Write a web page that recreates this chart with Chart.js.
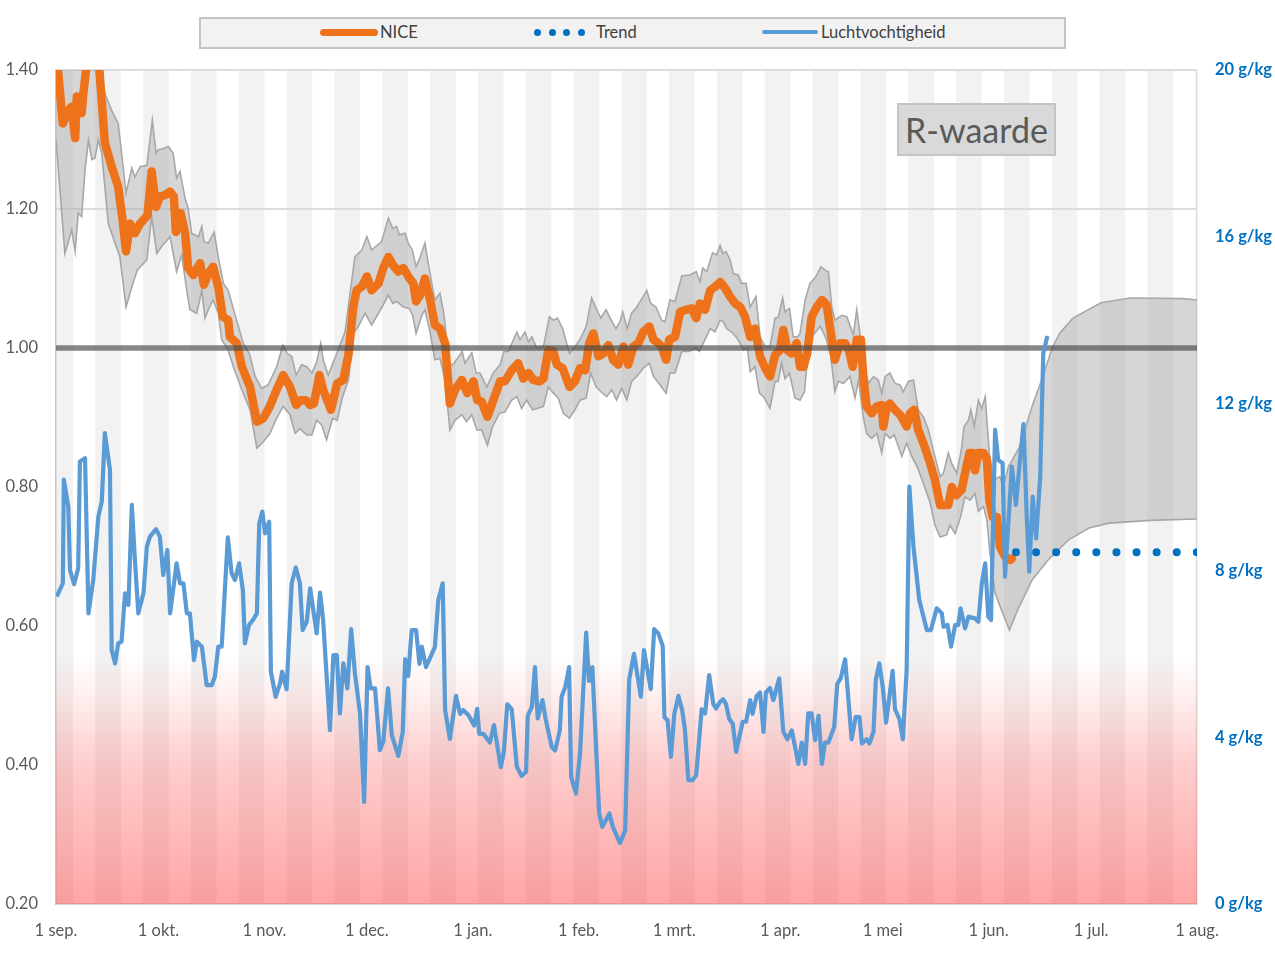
<!DOCTYPE html>
<html><head><meta charset="utf-8">
<script src="https://cdn.jsdelivr.net/npm/chart.js@4.4.1/dist/chart.umd.min.js"></script>
<style>
html,body{margin:0;padding:0;background:#fff;}
#wrap{position:relative;width:1275px;height:956px;overflow:hidden;}
#c{position:absolute;left:0;top:0;}
.abs{position:absolute;}
#legendBox{left:199px;top:17px;width:867px;height:32px;box-sizing:border-box;border:2px solid #c4c4c4;background:#f2f2f2;}
.lt{font-family:Lato,sans-serif;font-size:16.5px;line-height:20px;color:#404040;top:22px;white-space:nowrap;}
.dot{width:7px;height:7px;border-radius:50%;background:#0070c0;top:29px;}
#rTitle{left:897px;top:103px;width:159px;height:53px;box-sizing:border-box;border:2px solid #c4c4c4;background:#d9d9d9;font-family:Lato,sans-serif;font-size:34px;line-height:49px;color:#595959;text-align:center;}
</style></head>
<body><div id="wrap">
<canvas id="c" width="1275" height="956"></canvas>
<div id="legendBox" class="abs"></div>
<div class="abs" style="left:320px;top:29px;width:58px;height:7px;border-radius:4px;background:#ee7219;"></div>
<div class="abs lt" style="left:380px;">NICE</div>
<div class="abs dot" style="left:534px;"></div>
<div class="abs dot" style="left:549px;"></div>
<div class="abs dot" style="left:563px;"></div>
<div class="abs dot" style="left:578px;"></div>
<div class="abs lt" style="left:596px;">Trend</div>
<div class="abs" style="left:762px;top:30px;width:56px;height:4px;border-radius:2px;background:#5b9bd5;"></div>
<div class="abs lt" style="left:821px;">Luchtvochtigheid</div>
<div id="rTitle" class="abs">R-waarde</div>
</div>
<script>
// x = days since 1 sep.
const monthDays = [0,30,61,91,122,153,181,212,242,273,303,334];
const monthLabels = ['1 sep.','1 okt.','1 nov.','1 dec.','1 jan.','1 feb.','1 mrt.','1 apr.','1 mei','1 jun.','1 jul.','1 aug.'];
const leftTicks = [0.2,0.4,0.6,0.8,1.0,1.2,1.4];

// R-waarde (NICE) [day, R]
const nicePoints = [[0,1.43],[2.0,1.323],[3.6,1.342],[4.6,1.347],[5.6,1.302],[6.1,1.362],[7.5,1.338],[8.0,1.366],[8.8,1.40],[10,1.45],[11.5,1.46],[12.7,1.40],[14.3,1.295],[16.3,1.261],[18.2,1.232],[19.5,1.184],[20.5,1.139],[21.7,1.179],[23.1,1.165],[24.6,1.179],[26.8,1.191],[28.0,1.254],[29.3,1.203],[30.4,1.218],[31.9,1.220],[33.4,1.225],[34.5,1.218],[35.1,1.167],[36.5,1.194],[37.8,1.165],[38.7,1.115],[40.2,1.105],[42.2,1.122],[43.3,1.091],[44.6,1.107],[46.0,1.117],[47.5,1.088],[48.8,1.045],[50.4,1.040],[50.9,1.016],[52.9,1.007],[54.4,0.973],[56.8,0.944],[58.8,0.894],[60.7,0.899],[62.6,0.916],[64.6,0.940],[66.5,0.961],[68.5,0.944],[70.3,0.918],[71.6,0.925],[73.2,0.925],[74.4,0.918],[75.5,0.920],[77.1,0.961],[78.2,0.940],[80.5,0.911],[82.3,0.949],[84.1,0.954],[85.6,0.990],[87.0,1.059],[88.0,1.083],[89.5,1.088],[91.0,1.103],[92.4,1.083],[94.4,1.093],[95.8,1.115],[97.3,1.131],[98.7,1.119],[100.2,1.110],[101.7,1.115],[103.1,1.103],[104.6,1.093],[105.4,1.067],[106.6,1.076],[108.0,1.100],[109.5,1.069],[110.9,1.033],[112.4,1.028],[113.9,1.007],[115.3,0.920],[116.8,0.940],[118.8,0.954],[120.4,0.935],[122.2,0.952],[123.3,0.925],[124.6,0.923],[126.3,0.901],[128.0,0.925],[130.0,0.952],[131.4,0.952],[133.4,0.968],[135.3,0.978],[136.8,0.956],[138.3,0.964],[139.7,0.954],[141.5,0.952],[142.7,0.956],[144.1,0.997],[145.6,0.995],[146.6,0.976],[148.3,0.971],[150.3,0.944],[151.9,0.952],[153.4,0.971],[154.9,0.968],[156.1,1.007],[157.3,1.021],[158.8,0.988],[160.2,0.992],[161.7,1.004],[163.1,0.983],[164.6,0.976],[166.1,1.002],[167.5,0.976],[169.0,1.002],[170.5,1.007],[171.9,1.023],[173.7,1.031],[174.9,1.012],[176.3,1.007],[177.3,1.002],[178.6,0.983],[179.5,1.012],[181.2,1.016],[182.7,1.052],[184.4,1.055],[186.1,1.057],[187.4,1.043],[188.5,1.064],[190.0,1.055],[191.5,1.083],[192.9,1.088],[194.4,1.095],[195.9,1.086],[197.3,1.074],[198.8,1.064],[200.3,1.059],[201.7,1.045],[203.2,1.016],[204.6,1.028],[206.1,0.988],[207.6,0.971],[209.0,0.959],[210.5,0.990],[211.9,0.997],[212.9,1.026],[214.1,0.997],[215.4,0.992],[216.8,1.007],[217.8,0.973],[218.8,0.973],[219.9,0.992],[221.2,1.045],[222.7,1.059],[224.2,1.069],[225.6,1.062],[227.1,1.012],[228.0,0.983],[229.5,1.007],[231.0,1.007],[232.2,0.995],[233.2,0.973],[234.4,1.012],[235.6,1.012],[236.3,0.959],[237.3,0.916],[238.8,0.906],[240.3,0.916],[241.7,0.918],[242.2,0.887],[243.2,0.916],[244.1,0.920],[245.6,0.911],[247.1,0.904],[248.0,0.896],[249.0,0.887],[250.0,0.906],[251.2,0.911],[252.4,0.882],[253.9,0.863],[255.9,0.834],[257.3,0.810],[258.8,0.774],[260.2,0.774],[261.2,0.774],[262.2,0.800],[263.5,0.788],[265.1,0.796],[266.1,0.820],[267.4,0.849],[268.5,0.849],[269.0,0.824],[270.0,0.849],[271.5,0.849],[272.5,0.839],[273.2,0.781],[274.2,0.757],[275.4,0.757],[276.3,0.714],[277.8,0.700],[279.3,0.695],[279.8,0.697]];

// Upper bound of the band [day, R]
const bandUpperPoints = [[0,1.48],[5,1.46],[9,1.50],[12.9,1.40],[14.3,1.366],[16.3,1.342],[18.2,1.323],[19.2,1.280],[20.5,1.223],[22.2,1.259],[23.1,1.246],[24.6,1.261],[26.6,1.263],[28.2,1.328],[29.3,1.280],[29.9,1.285],[31.4,1.287],[32.9,1.290],[34.3,1.280],[35.3,1.244],[36.3,1.254],[37.8,1.215],[38.7,1.201],[39.7,1.165],[41.7,1.160],[42.7,1.175],[43.3,1.153],[44.6,1.151],[46.3,1.167],[47.5,1.131],[49.0,1.093],[50.4,1.083],[51.9,1.057],[53.4,1.031],[54.8,1.007],[56.6,0.992],[58.3,0.959],[60.2,0.942],[62.1,0.947],[64.6,0.973],[66.4,1.004],[67.7,0.992],[69.0,0.988],[70.3,0.961],[71.9,0.976],[73.4,0.973],[74.9,0.964],[76.3,0.980],[77.5,1.007],[78.2,0.983],[79.7,0.961],[81.2,0.980],[82.6,0.997],[84.6,1.023],[86.6,1.098],[87.5,1.131],[89.5,1.141],[91.0,1.160],[92.4,1.141],[95.3,1.153],[96.3,1.170],[97.3,1.187],[98.6,1.172],[99.7,1.175],[100.5,1.163],[102.2,1.165],[103.1,1.151],[104.3,1.141],[105.4,1.117],[106.6,1.131],[108.0,1.151],[109.5,1.107],[110.9,1.069],[112.4,1.079],[113.6,1.047],[115.1,0.973],[116.5,0.978],[118.9,0.995],[119.7,0.978],[121.7,0.993],[123.0,0.964],[124.1,0.964],[126.1,0.944],[128.0,0.964],[130.0,0.976],[131.1,0.995],[132.4,0.995],[134.9,1.023],[135.8,1.012],[137.3,1.023],[138.3,1.009],[139.3,1.016],[140.7,1.000],[142.7,1.002],[144.4,1.045],[145.6,1.040],[146.8,1.043],[148.3,1.028],[150.3,0.992],[151.9,1.002],[153.4,1.012],[155.2,1.031],[156.8,1.072],[158.3,1.055],[159.5,1.043],[161.0,1.055],[162.0,1.045],[163.9,1.028],[165.1,1.038],[165.9,1.052],[167.2,1.028],[168.5,1.050],[170.0,1.059],[171.9,1.074],[172.9,1.083],[174.1,1.064],[175.6,1.059],[177.3,1.040],[178.3,1.038],[179.7,1.069],[181.2,1.067],[183.2,1.104],[185.6,1.105],[187.4,1.110],[188.5,1.095],[189.3,1.115],[190.5,1.110],[192.2,1.137],[193.4,1.134],[194.4,1.148],[195.2,1.136],[196.1,1.139],[197.3,1.127],[198.3,1.107],[199.7,1.105],[200.7,1.093],[202.0,1.093],[203.2,1.059],[204.9,1.074],[206.1,1.016],[207.6,1.002],[209.0,1.002],[210.5,1.043],[211.4,1.044],[212.7,1.072],[213.4,1.052],[214.7,1.057],[215.8,1.016],[217.0,1.016],[217.8,1.021],[219.3,1.069],[220.7,1.093],[222.5,1.103],[223.9,1.117],[225.1,1.112],[226.1,1.110],[227.1,1.059],[228.0,1.040],[230.0,1.047],[231.5,1.045],[233.4,1.019],[234.4,1.055],[235.2,1.026],[236.2,0.983],[237.8,0.949],[239.3,0.959],[240.7,0.954],[241.7,0.935],[242.7,0.959],[244.1,0.964],[245.6,0.949],[247.1,0.947],[248.0,0.937],[249.5,0.952],[251.0,0.954],[252.4,0.911],[253.9,0.901],[255.4,0.882],[257.0,0.849],[258.8,0.815],[259.8,0.820],[261.2,0.849],[262.2,0.834],[263.7,0.820],[265.1,0.856],[265.8,0.887],[267.1,0.896],[267.8,0.911],[268.8,0.887],[270.0,0.925],[271.0,0.913],[272.0,0.930],[273.2,0.849],[274.4,0.810],[276.3,0.815],[277.3,0.800],[278.8,0.829],[282.1,0.858],[285.7,0.916],[288.6,0.955],[291.6,1.000],[293.9,1.022],[297.7,1.043],[305.9,1.065],[314.4,1.072],[329.9,1.071],[334,1.069]];

// Lower bound of the band [day, R]
const bandLowerPoints = [[0,1.30],[2.6,1.136],[4.6,1.170],[5.6,1.139],[6.5,1.194],[7.5,1.189],[8.5,1.256],[9.5,1.299],[10.5,1.271],[11.4,1.273],[12.4,1.299],[13.4,1.280],[15.3,1.179],[18.7,1.131],[20.5,1.059],[22.2,1.088],[23.8,1.112],[26.6,1.127],[28.0,1.189],[29.5,1.136],[30.9,1.146],[33.4,1.160],[35.3,1.110],[36.8,1.134],[38.4,1.079],[39.2,1.055],[41.2,1.050],[42.7,1.083],[43.6,1.043],[44.9,1.059],[46.0,1.069],[47.5,1.050],[48.5,1.012],[50.4,0.997],[51.9,0.973],[54.4,0.940],[56.8,0.911],[58.8,0.856],[60.7,0.865],[62.6,0.877],[64.6,0.899],[66.5,0.916],[68.5,0.904],[70.0,0.877],[71.4,0.884],[73.4,0.875],[74.9,0.875],[76.3,0.896],[77.8,0.889],[79.2,0.868],[81.0,0.899],[82.3,0.896],[83.9,0.930],[85.6,0.954],[87.2,1.021],[88.5,1.031],[90.5,1.050],[92.4,1.033],[94.4,1.050],[95.8,1.062],[97.3,1.076],[98.6,1.064],[99.7,1.067],[101.7,1.059],[103.4,1.057],[104.4,1.047],[105.4,1.021],[107.1,1.047],[108.0,1.055],[109.5,1.023],[110.9,0.983],[112.4,0.985],[113.9,0.954],[115.3,0.882],[116.8,0.896],[118.8,0.904],[120.2,0.894],[121.7,0.904],[123.2,0.882],[124.6,0.882],[126.3,0.860],[127.8,0.887],[129.8,0.906],[131.4,0.908],[133.4,0.925],[134.9,0.930],[136.3,0.913],[137.8,0.925],[139.5,0.911],[140.9,0.913],[142.7,0.916],[144.1,0.944],[145.6,0.935],[147.0,0.928],[148.5,0.906],[150.3,0.899],[151.9,0.911],[153.4,0.925],[155.2,0.928],[156.5,0.964],[158.1,0.944],[159.5,0.937],[161.2,0.930],[162.7,0.940],[164.1,0.925],[165.6,0.942],[167.1,0.925],[168.5,0.952],[170.0,0.959],[171.9,0.971],[173.7,0.978],[174.9,0.959],[176.8,0.947],[178.6,0.935],[179.7,0.964],[181.2,0.964],[183.2,0.995],[185.4,0.995],[187.1,1.000],[188.3,0.995],[189.5,1.007],[191.5,1.028],[192.9,1.023],[194.4,1.040],[195.3,1.038],[196.3,1.028],[197.8,1.023],[199.1,1.016],[200.2,1.007],[201.2,0.997],[202.4,1.000],[203.2,0.966],[204.6,0.973],[205.9,0.935],[207.1,0.930],[209.0,0.913],[210.5,0.952],[211.4,0.952],[212.4,0.978],[213.4,0.956],[214.7,0.964],[216.3,0.928],[217.8,0.925],[219.1,0.937],[220.2,0.997],[221.7,1.019],[223.7,1.031],[225.4,1.014],[226.8,0.988],[228.0,0.937],[229.0,0.952],[230.5,0.949],[232.4,0.959],[233.9,0.928],[234.9,0.954],[236.3,0.901],[237.3,0.877],[238.8,0.870],[240.3,0.877],[241.7,0.849],[242.7,0.877],[244.1,0.870],[245.4,0.875],[246.6,0.858],[247.6,0.844],[249.0,0.863],[250.5,0.844],[252.1,0.829],[253.9,0.805],[255.9,0.777],[257.3,0.745],[258.8,0.728],[260.7,0.731],[261.7,0.745],[263.2,0.733],[264.8,0.757],[266.1,0.786],[267.6,0.781],[269.0,0.791],[270.0,0.765],[271.5,0.772],[272.5,0.752],[273.4,0.705],[274.9,0.647],[276.3,0.629],[279.1,0.594],[281.5,0.623],[285.7,0.666],[290.4,0.695],[296.4,0.724],[302.4,0.741],[308.3,0.748],[320.3,0.752],[334,0.754]];

// Trend [day, R]
const trendPoints = [[281,0.706],[334,0.706]];
// Reference line R = 1
const refPoints = [[0,1.0],[334,1.0]];

// Luchtvochtigheid [day, g/kg]
const humidityPoints = [[0.2,7.37],[2.0,7.69],[2.3,10.18],[3.6,9.53],[4.1,8.01],[5.3,7.67],[6.5,8.05],[7.0,10.61],[8.5,10.69],[9.5,6.97],[10.9,7.77],[12.4,9.29],[13.4,9.65],[14.3,11.29],[15.8,10.41],[16.3,6.09],[17.3,5.77],[18.2,6.25],[19.2,6.29],[20.2,7.45],[21.2,7.17],[22.2,9.57],[23.1,8.25],[24.1,6.97],[25.6,7.45],[26.6,8.57],[27.5,8.81],[29.3,8.99],[30.4,8.81],[31.4,7.89],[32.6,8.49],[33.4,6.97],[35.3,8.17],[36.3,7.69],[37.3,7.69],[38.3,6.97],[39.2,6.97],[40.4,5.85],[41.2,6.29],[42.7,6.17],[44.1,5.25],[45.6,5.25],[46.5,5.45],[47.5,6.17],[48.5,6.17],[50.3,8.79],[51.4,7.93],[52.4,7.77],[53.6,8.17],[54.7,7.53],[55.3,6.25],[56.5,6.69],[57.8,6.83],[58.8,6.97],[59.5,9.13],[60.4,9.41],[61.2,8.89],[62.4,9.17],[62.9,5.57],[64.3,4.97],[65.6,5.29],[66.2,5.57],[67.5,5.15],[69.0,7.69],[70.2,8.07],[71.4,7.69],[72.2,6.57],[73.4,6.77],[74.4,7.57],[75.3,7.05],[76.3,6.49],[77.3,7.47],[78.2,6.81],[80.2,4.17],[81.2,5.97],[82.2,5.97],[83.1,4.57],[84.1,5.77],[85.3,5.17],[86.4,6.59],[87.5,5.53],[89.0,4.57],[90.2,2.45],[91.2,5.68],[92.1,5.17],[93.4,5.17],[94.8,3.69],[95.8,3.89],[97.2,5.17],[98.3,4.05],[100.2,3.55],[101.5,4.13],[102.2,5.87],[103.1,5.47],[104.1,6.57],[105.4,6.57],[106.4,5.76],[107.1,6.17],[108.3,5.68],[110.9,6.16],[111.9,7.29],[113.2,7.69],[113.9,4.65],[115.3,3.96],[117.1,4.99],[118.3,4.56],[119.2,4.65],[120.7,4.53],[122.4,4.28],[123.3,4.68],[123.9,4.08],[125.1,4.08],[127.0,3.87],[128.2,4.29],[130.2,3.28],[131.1,3.65],[132.1,4.79],[133.4,4.67],[134.9,3.29],[136.3,3.07],[137.6,3.17],[138.1,4.51],[139.3,4.73],[140.2,5.68],[141.0,4.45],[142.4,4.89],[143.4,4.41],[145.1,3.77],[146.1,3.68],[147.5,4.17],[148.0,4.97],[149.1,5.21],[150.2,5.68],[150.8,3.05],[152.2,2.65],[153.4,3.61],[155.2,6.51],[156.0,5.35],[157.0,5.68],[159.0,2.17],[159.9,1.85],[162.0,2.17],[163.0,1.85],[165.1,1.46],[166.6,1.76],[167.8,5.39],[169.2,6.00],[171.2,4.97],[172.1,6.09],[174.1,5.15],[175.1,6.59],[176.3,6.49],[177.6,6.19],[178.1,4.48],[179.0,4.41],[180.0,3.53],[181.0,4.56],[182.2,4.99],[183.3,4.65],[184.1,4.19],[185.1,2.97],[186.3,2.97],[187.4,3.09],[189.0,4.67],[190.0,4.57],[191.2,5.49],[192.4,4.80],[193.2,4.69],[194.4,4.85],[195.3,4.91],[196.1,4.80],[197.1,4.43],[198.1,4.32],[199.1,3.65],[201.0,4.37],[202.0,4.37],[203.2,4.89],[203.9,4.56],[205.1,4.99],[206.1,5.07],[207.1,4.13],[207.8,5.07],[209.0,5.18],[210.0,4.89],[211.7,5.41],[212.9,4.13],[214.1,3.95],[215.4,4.16],[217.3,3.36],[218.3,3.87],[219.3,3.36],[220.2,4.57],[221.2,4.57],[222.2,3.93],[223.2,4.51],[224.2,3.36],[225.1,3.87],[226.1,3.87],[227.8,4.25],[228.7,5.28],[229.7,5.41],[231.0,5.87],[232.9,3.95],[234.1,4.49],[235.2,4.48],[235.9,3.85],[237.3,3.95],[238.1,3.85],[239.3,4.13],[240.0,5.39],[241.0,5.77],[242.0,5.21],[243.0,4.35],[244.9,5.59],[245.6,4.67],[246.9,4.43],[247.9,3.95],[249.0,5.61],[249.8,10.01],[251.0,8.57],[252.7,7.29],[254.9,6.57],[256.1,6.57],[257.8,7.09],[259.3,6.97],[259.8,6.65],[261.0,6.69],[262.0,6.17],[263.2,6.69],[264.1,6.69],[264.8,7.09],[266.1,6.61],[267.1,6.89],[269.0,6.85],[270.0,6.77],[271.0,7.69],[272.0,8.17],[272.9,6.89],[273.7,6.81],[274.9,11.37],[275.8,10.65],[277.1,10.57],[277.8,7.85],[279.8,10.49],[281.0,9.57],[282.0,10.49],[283.2,11.51],[284.2,9.21],[284.9,7.97],[285.9,9.77],[286.9,8.77],[288.1,10.25],[289.0,13.21],[290.2,13.62]];

const toXY = arr => arr.map(p => ({x: p[0], y: p[1]}));

const stripesPlugin = {
  id: 'stripes',
  beforeDraw(chart) {
    const {ctx, chartArea: a, scales: {x}} = chart;
    ctx.save();
    ctx.fillStyle = '#f2f2f2';
    for (let k = -1; k < 25; k++) {
      const s = Math.max(0, 11.5 + 14 * k), e = Math.min(334, 11.5 + 14 * k + 7.5);
      if (e <= s) continue;
      const x0 = x.getPixelForValue(s), x1 = x.getPixelForValue(e);
      ctx.fillRect(x0, a.top, x1 - x0, a.bottom - a.top);
    }
    ctx.restore();
  }
};
const redZonePlugin = {
  id: 'redZone',
  beforeDatasetsDraw(chart) {
    const {ctx, chartArea: a, scales: {y}} = chart;
    const y0 = y.getPixelForValue(0.56);
    const g = ctx.createLinearGradient(0, y0, 0, a.bottom);
    g.addColorStop(0, 'rgba(255,60,60,0)');
    g.addColorStop(0.15, 'rgba(255,60,60,0.07)');
    g.addColorStop(0.45, 'rgba(255,60,60,0.26)');
    g.addColorStop(1, 'rgba(255,60,60,0.46)');
    ctx.save();
    ctx.fillStyle = g;
    ctx.fillRect(a.left, y0, a.right - a.left, a.bottom - y0);
    ctx.restore();
  }
};

new Chart(document.getElementById('c'), {
  type: 'line',
  data: {
    datasets: [
      {label: 'Luchtvochtigheid', data: toXY(humidityPoints), yAxisID: 'y2', borderColor: '#5b9bd5', borderWidth: 4.2, pointRadius: 0, fill: false, tension: 0, borderJoinStyle: 'round', order: 0},
      {label: 'Trend', data: toXY(trendPoints), yAxisID: 'y', borderColor: '#0070c0', borderWidth: 8, borderDash: [0, 20.1], borderCapStyle: 'round', pointRadius: 0, fill: false, order: 1},
      {label: 'R=1', data: toXY(refPoints), yAxisID: 'y', borderColor: 'rgba(70,70,70,0.65)', borderWidth: 5.5, pointRadius: 0, fill: false, order: 2},
      {label: 'NICE', data: toXY(nicePoints), yAxisID: 'y', borderColor: '#ee7219', borderWidth: 8.5, pointRadius: 0, fill: false, borderJoinStyle: 'round', borderCapStyle: 'round', clip: 0, order: 3},
      {label: 'Boven', data: toXY(bandUpperPoints), yAxisID: 'y', borderColor: '#a8a8a8', borderWidth: 1.6, backgroundColor: 'rgba(165,165,165,0.45)', fill: '+1', pointRadius: 0, clip: 0, order: 4},
      {label: 'Onder', data: toXY(bandLowerPoints), yAxisID: 'y', borderColor: '#a8a8a8', borderWidth: 1.6, pointRadius: 0, fill: false, clip: 0, order: 5}
    ]
  },
  options: {
    responsive: false,
    animation: false,
    events: [],
    layout: {padding: {top: 70, left: 0, right: 0, bottom: 0}},
    plugins: {legend: {display: false}, title: {display: false}, tooltip: {enabled: false}},
    scales: {
      x: {
        type: 'linear', min: 0, max: 334,
        afterBuildTicks: s => { s.ticks = monthDays.map(v => ({value: v})); },
        ticks: {callback: (v, i) => monthLabels[i], font: {family: 'Lato', size: 16.5}, color: '#595959', padding: 17, maxRotation: 0, autoSkip: false},
        grid: {color: 'rgba(0,0,0,0)', drawTicks: false},
        border: {color: '#d9d9d9', width: 2},
        afterFit: s => { s.height = 52; }
      },
      y: {
        position: 'left', min: 0.2, max: 1.4,
        afterBuildTicks: s => { s.ticks = leftTicks.map(v => ({value: v})); },
        ticks: {callback: v => Number(v).toFixed(2), font: {family: 'Lato', size: 16.5}, color: '#595959', padding: 18},
        grid: {drawTicks: false, lineWidth: 2, color: c => (c.tick && (Math.abs(c.tick.value - 1.2) < 1e-6 || Math.abs(c.tick.value - 1.4) < 1e-6)) ? '#dcdcdc' : 'rgba(0,0,0,0)'},
        border: {color: '#c8c8c8', width: 1.5},
        afterFit: s => { s.width = 56; }
      },
      y2: {
        position: 'right', min: 0, max: 20,
        ticks: {stepSize: 4, callback: v => v + ' g/kg', font: {family: 'Lato', size: 16.5, weight: 'bold'}, color: '#0070c0', padding: 18},
        grid: {display: false, drawTicks: false},
        border: {color: '#e0e0e0', width: 1.5},
        afterFit: s => { s.width = 78; }
      }
    }
  },
  plugins: [stripesPlugin, redZonePlugin]
});
</script>
</body></html>
